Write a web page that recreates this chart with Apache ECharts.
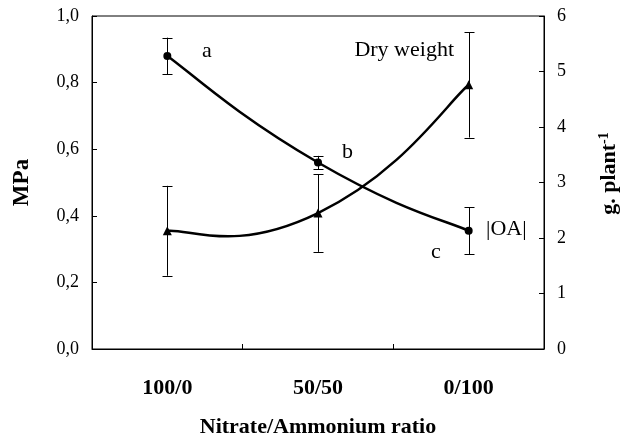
<!DOCTYPE html>
<html><head><meta charset="utf-8">
<script src="https://cdn.jsdelivr.net/npm/echarts@6/dist/echarts.min.js"></script>
<style>html,body{margin:0;padding:0;background:#fff}#c{width:625px;height:435px}</style>
</head><body><div id="c"></div>
<script>
const categories = ['100/0', '50/50', '0/100'];
const oaValues = [0.88, 0.56, 0.355];
const oaErrors = [0.055, 0.02, 0.07];
const dryValues = [2.13, 2.45, 4.76];
const dryErrors = [0.81, 0.7, 0.95];
const oaLetters = ['a', 'b', 'c'];

const FONT = "'Liberation Serif', 'Times New Roman', serif";
const chart = echarts.init(document.getElementById('c'), null, {renderer: 'canvas'});

function errRender(params, api) {
  const i = api.value(0), v = api.value(1), e = api.value(2);
  const t = api.coord([i, v + e]);
  const b = api.coord([i, v - e]);
  const x = Math.round(t[0]) + 0.5;
  const hw = 5;
  const st = {stroke: '#000', lineWidth: 1};
  return {type: 'group', children: [
    {type: 'line', shape: {x1: x, y1: t[1], x2: x, y2: b[1]}, style: st},
    {type: 'line', shape: {x1: x - hw, y1: Math.round(t[1]) + 0.5, x2: x + hw, y2: Math.round(t[1]) + 0.5}, style: st},
    {type: 'line', shape: {x1: x - hw, y1: Math.round(b[1]) + 0.5, x2: x + hw, y2: Math.round(b[1]) + 0.5}, style: st}
  ]};
}

// Smoothed curve (spreadsheet-style) drawn segment by segment from the data values.
function curveRender(values) {
  const K = 0.28, KEND = 0.15;
  return function (params, api) {
    const i = params.dataIndex;
    const n = values.length;
    if (i >= n - 1) return null;
    const P = values.map((v, j) => api.coord([j, v]));
    const p0 = P[i], p1 = P[i + 1];
    const pm = P[i - 1] || p0;
    const pn = P[i + 2] || p1;
    const k1 = i === 0 ? KEND : K;
    const k2 = i + 2 >= n ? KEND : K;
    const c1 = [p0[0] + (p1[0] - pm[0]) * k1, p0[1] + (p1[1] - pm[1]) * k1];
    const c2 = [p1[0] - (pn[0] - p0[0]) * k2, p1[1] - (pn[1] - p0[1]) * k2];
    return {type: 'bezierCurve', shape: {x1: p0[0], y1: p0[1], x2: p1[0], y2: p1[1],
      cpx1: c1[0], cpy1: c1[1], cpx2: c2[0], cpy2: c2[1]},
      style: {stroke: '#000', lineWidth: 2.5, fill: null}};
  };
}

const axisCommon = {
  axisLine: {show: true, lineStyle: {color: '#000', width: 1}},
  axisTick: {show: true, inside: true, length: 5, lineStyle: {color: '#000'}},
  splitLine: {show: false}
};

const option = {
  animation: false,
  backgroundColor: '#fff',
  grid: {left: 92, right: 81, top: 16, bottom: 86, show: true, borderColor: '#000', borderWidth: 1,
    containLabel: false, outerBoundsMode: 'none'},
  xAxis: Object.assign({}, axisCommon, {
    type: 'category', data: categories, boundaryGap: true,
    name: 'Nitrate/Ammonium ratio', nameLocation: 'middle', nameGap: 67,
    nameTextStyle: {fontFamily: FONT, fontSize: 22, fontWeight: 'bold', color: '#000'},
    axisLabel: {fontFamily: FONT, fontSize: 22, fontWeight: 'bold', color: '#000', margin: 28}
  }),
  yAxis: [
    Object.assign({}, axisCommon, {
      type: 'value', min: 0, max: 1, interval: 0.2,
      name: 'MPa', nameLocation: 'middle', nameGap: 58, nameRotate: 90,
      nameTextStyle: {fontFamily: FONT, fontSize: 23, fontWeight: 'bold', color: '#000'},
      axisLabel: {fontFamily: FONT, fontSize: 18, color: '#000', margin: 13,
        formatter: v => v.toFixed(1).replace('.', ',')}
    }),
    Object.assign({}, axisCommon, {
      type: 'value', min: 0, max: 6, interval: 1, position: 'right',
      name: '{b|g. plant}{s|-1}', nameLocation: 'middle', nameGap: 53, nameRotate: 90,
      nameTextStyle: {color: '#000', padding: [0, 0, 0, 18], rich: {
        b: {fontFamily: FONT, fontSize: 22, fontWeight: 'bold', color: '#000', lineHeight: 24},
        s: {fontFamily: FONT, fontSize: 14, fontWeight: 'bold', color: '#000', verticalAlign: 'top', lineHeight: 24}
      }},
      axisLabel: {fontFamily: FONT, fontSize: 18, color: '#000', margin: 13}
    })
  ],
  series: [
    {type: 'custom', name: 'oaErr', yAxisIndex: 0, renderItem: errRender,
      encode: {x: 0, y: 1}, data: categories.map((c, i) => [i, oaValues[i], oaErrors[i]]), z: 1},
    {type: 'custom', name: 'dryErr', yAxisIndex: 1, renderItem: errRender,
      encode: {x: 0, y: 1}, data: categories.map((c, i) => [i, dryValues[i], dryErrors[i]]), z: 1},
    {type: 'custom', name: 'oaCurve', yAxisIndex: 0, renderItem: curveRender(oaValues),
      encode: {x: 0, y: 1}, data: categories.map((c, i) => [i, oaValues[i]]), z: 2},
    {type: 'custom', name: 'dryCurve', yAxisIndex: 1, renderItem: curveRender(dryValues),
      encode: {x: 0, y: 1}, data: categories.map((c, i) => [i, dryValues[i]]), z: 2},
    {type: 'scatter', name: '|OA|', yAxisIndex: 0, data: oaValues,
      symbol: 'circle', symbolSize: 8, itemStyle: {color: '#000', opacity: 1}, z: 3},
    {type: 'scatter', name: 'Dry weight', yAxisIndex: 1, data: dryValues,
      symbol: 'triangle', symbolSize: 9, itemStyle: {color: '#000', opacity: 1}, z: 3}
  ],
  graphic: [
    {type: 'text', left: 202, top: 40, style: {text: oaLetters[0], font: "22px " + FONT, fill: '#000'}},
    {type: 'text', left: 342, top: 141, style: {text: oaLetters[1], font: "22px " + FONT, fill: '#000'}},
    {type: 'text', left: 431, top: 241, style: {text: oaLetters[2], font: "22px " + FONT, fill: '#000'}},
    {type: 'text', left: 486, top: 218, style: {text: '|OA|', font: "22px " + FONT, fill: '#000'}},
    {type: 'text', right: 625 - 454, top: 39, style: {text: 'Dry weight', font: "22px " + FONT, fill: '#000'}}
  ]
};
chart.setOption(option);
</script>
</body></html>
